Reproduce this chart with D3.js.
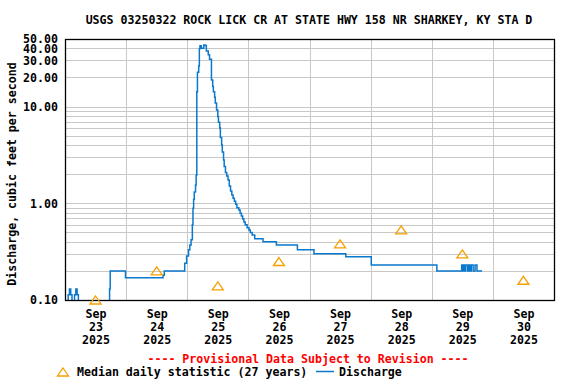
<!DOCTYPE html>
<html>
<head>
<meta charset="utf-8">
<script src="https://cdn.jsdelivr.net/npm/d3@7"></script>
<style>
  body { margin: 0; background: #fff; }
  text { font-family: "DejaVu Sans Mono", monospace; font-weight: bold; font-size: 11.6px; fill: #000; }
</style>
</head>
<body>
<svg width="576" height="384"></svg>
<script>
// Labels
const chartTitle = "USGS 03250322 ROCK LICK CR AT STATE HWY 158 NR SHARKEY, KY STA D";
const yTitle = "Discharge, cubic feet per second";
const provisional = "---- Provisional Data Subject to Revision ----";
const medianLabel = "Median daily statistic (27 years)";
const flowLabel = "Discharge";

// Discharge readings: hours after 2025-09-23 00:00, and cfs
const flowHours = [0, 1.25, 1.75, 2.25, 2.75, 3.75, 4.25, 4.75, 5.25, 17.5, 17.75, 23.75, 38.5, 39,
  47, 47.75, 48.5, 49, 49.5, 50, 50.25, 50.5, 50.75, 51.25, 51.5, 51.75, 52, 52.5, 52.75, 53, 53.5,
  54.5, 55, 55.5, 56.25, 56.75, 57.5, 58, 58.25, 58.75, 59, 59.5, 60, 60.25, 60.75, 61, 61.5, 61.75,
  62.25, 62.5, 63, 63.5, 64, 64.5, 65, 65.5, 66, 66.5, 67, 67.5, 68.25, 68.75, 69.25, 69.75, 70.25,
  70.75, 71.5, 72.25, 72.75, 73.5, 74.5, 77.75, 83, 91.25, 97.75, 110.25, 120.25, 146,
  155.75, 156.25, 156.5, 157, 157.25, 158, 158.5, 159, 159.5, 160.25, 161, 161.75, 163.75];
const flowValues = [0.09, 0.113, 0.13, 0.113, 0.09, 0.113, 0.13, 0.113, 0.09, 0.13, 0.2, 0.17, 0.18, 0.2,
  0.24, 0.285, 0.33, 0.37, 0.42, 0.6, 0.89, 1.1, 1.31, 1.55, 1.96, 14.2, 22.6, 26.3, 39.7, 42.6, 40,
  43.4, 42.9, 37.5, 34.3, 30.9, 18.8, 16.1, 14.2, 12.5, 10.9, 9.2, 7.9, 6.9, 6.0, 4.8, 4.0, 3.4,
  2.8, 2.4, 2.08, 1.91, 1.74, 1.51, 1.34, 1.22, 1.13, 1.05, 0.98, 0.90, 0.85, 0.79, 0.74, 0.69, 0.64,
  0.60, 0.56, 0.53, 0.50, 0.47, 0.43, 0.40, 0.37, 0.33, 0.30, 0.28, 0.23, 0.20,
  0.23, 0.20, 0.23, 0.20, 0.23, 0.20, 0.23, 0.20, 0.23, 0.20, 0.23, 0.20, 0.20];

// Median daily statistic, one per day
const medianDays = ["2025-09-23", "2025-09-24", "2025-09-25", "2025-09-26",
  "2025-09-27", "2025-09-28", "2025-09-29", "2025-09-30"];
const medianValues = [0.10, 0.20, 0.14, 0.25, 0.38, 0.53, 0.30, 0.16];

const yLabels = [0.1, 1, 10, 20, 30, 40, 50];

const parseDay = d3.timeParse("%Y-%m-%d");
const start = parseDay("2025-09-23");
const end = parseDay("2025-10-01");

const flow = flowHours.map((h, i) => ({ date: d3.timeMinute.offset(start, h * 60), value: flowValues[i] }));
const medians = medianDays.map((d, i) => ({ date: d3.timeHour.offset(parseDay(d), 12), value: medianValues[i] }));

// Plot box
const box = { left: 65, right: 554, top: 39, bottom: 300 };

const svg = d3.select("svg");

const x = d3.scaleTime().domain([start, end]).range([box.left, box.right]);
const y = d3.scaleLog().domain([0.1, 50]).range([box.bottom, box.top]);

// Grid
svg.append("g")
    .selectAll("line")
    .data(y.ticks())
  .enter().append("line")
    .attr("x1", box.left).attr("x2", box.right)
    .attr("y1", d => Math.round(y(d)) + 0.5)
    .attr("y2", d => Math.round(y(d)) + 0.5)
    .attr("stroke", "#c8c8c8");

svg.append("g")
    .selectAll("line")
    .data(d3.timeDay.range(start, end).slice(1))
  .enter().append("line")
    .attr("x1", d => Math.round(x(d)) + 0.5)
    .attr("x2", d => Math.round(x(d)) + 0.5)
    .attr("y1", box.top).attr("y2", box.bottom)
    .attr("stroke", "#c8c8c8");

// Discharge line
svg.append("clipPath").attr("id", "plot")
  .append("rect")
    .attr("x", box.left).attr("y", box.top)
    .attr("width", box.right - box.left).attr("height", box.bottom - box.top);

const line = d3.line()
    .x(d => x(d.date))
    .y(d => y(d.value))
    .curve(d3.curveStepAfter);

svg.append("path")
    .datum(flow)
    .attr("clip-path", "url(#plot)")
    .attr("fill", "none")
    .attr("stroke", "#0a78cc")
    .attr("stroke-width", 1.5)
    .attr("d", line);

// Box
svg.append("rect")
    .attr("x", box.left + 0.5).attr("y", box.top + 0.5)
    .attr("width", box.right - box.left).attr("height", box.bottom - box.top)
    .attr("fill", "none")
    .attr("stroke", "#000")
    .attr("stroke-width", 1.3);

// Median triangles
const tri = "M0,-4L5.5,4L-5.5,4Z";
svg.append("g")
    .selectAll("path")
    .data(medians)
  .enter().append("path")
    .attr("transform", d => `translate(${x(d.date)},${y(d.value)})`)
    .attr("d", tri)
    .attr("fill", "none")
    .attr("stroke", "#f5a000")
    .attr("stroke-width", 1.3);

// Axes
const yAxis = svg.append("g")
    .attr("transform", `translate(${box.left},0)`)
    .call(d3.axisLeft(y).tickValues(yLabels).tickSize(0).tickPadding(7).tickFormat(d3.format(".2f")));
yAxis.select(".domain").remove();
yAxis.selectAll("text").attr("fill", null);

const xAxis = svg.append("g")
    .attr("transform", `translate(0,${box.bottom})`)
    .call(d3.axisBottom(x).tickValues(medians.map(d => d.date)).tickSize(0).tickPadding(10).tickFormat(""));
xAxis.select(".domain").remove();
xAxis.selectAll(".tick text")
    .attr("fill", null)
    .each(function(d) {
        const t = d3.select(this);
        ["%b", "%d", "%Y"].forEach((f, i) => {
            t.append("tspan").attr("x", 0).attr("dy", i ? 13 : "0.71em").text(d3.timeFormat(f)(d));
        });
    });
xAxis.attr("font-family", null).attr("font-size", null);
yAxis.attr("font-family", null).attr("font-size", null);

// Titles
svg.append("text")
    .attr("x", 309).attr("y", 24)
    .attr("text-anchor", "middle")
    .text(chartTitle);

svg.append("text")
    .attr("transform", "rotate(-90)")
    .attr("x", -174).attr("y", 16)
    .attr("text-anchor", "middle")
    .text(yTitle);

svg.append("text")
    .attr("x", 308).attr("y", 363)
    .attr("text-anchor", "middle")
    .style("fill", "#ff0000")
    .text(provisional);

// Legend
svg.append("path")
    .attr("transform", "translate(63,372)")
    .attr("d", tri)
    .attr("fill", "none")
    .attr("stroke", "#f5a000")
    .attr("stroke-width", 1.3);
svg.append("text").attr("x", 77).attr("y", 376).text(medianLabel);
svg.append("line")
    .attr("x1", 316).attr("x2", 334)
    .attr("y1", 371.5).attr("y2", 371.5)
    .attr("stroke", "#0a78cc")
    .attr("stroke-width", 1.5);
svg.append("text").attr("x", 339).attr("y", 376).text(flowLabel);
</script>
</body>
</html>
